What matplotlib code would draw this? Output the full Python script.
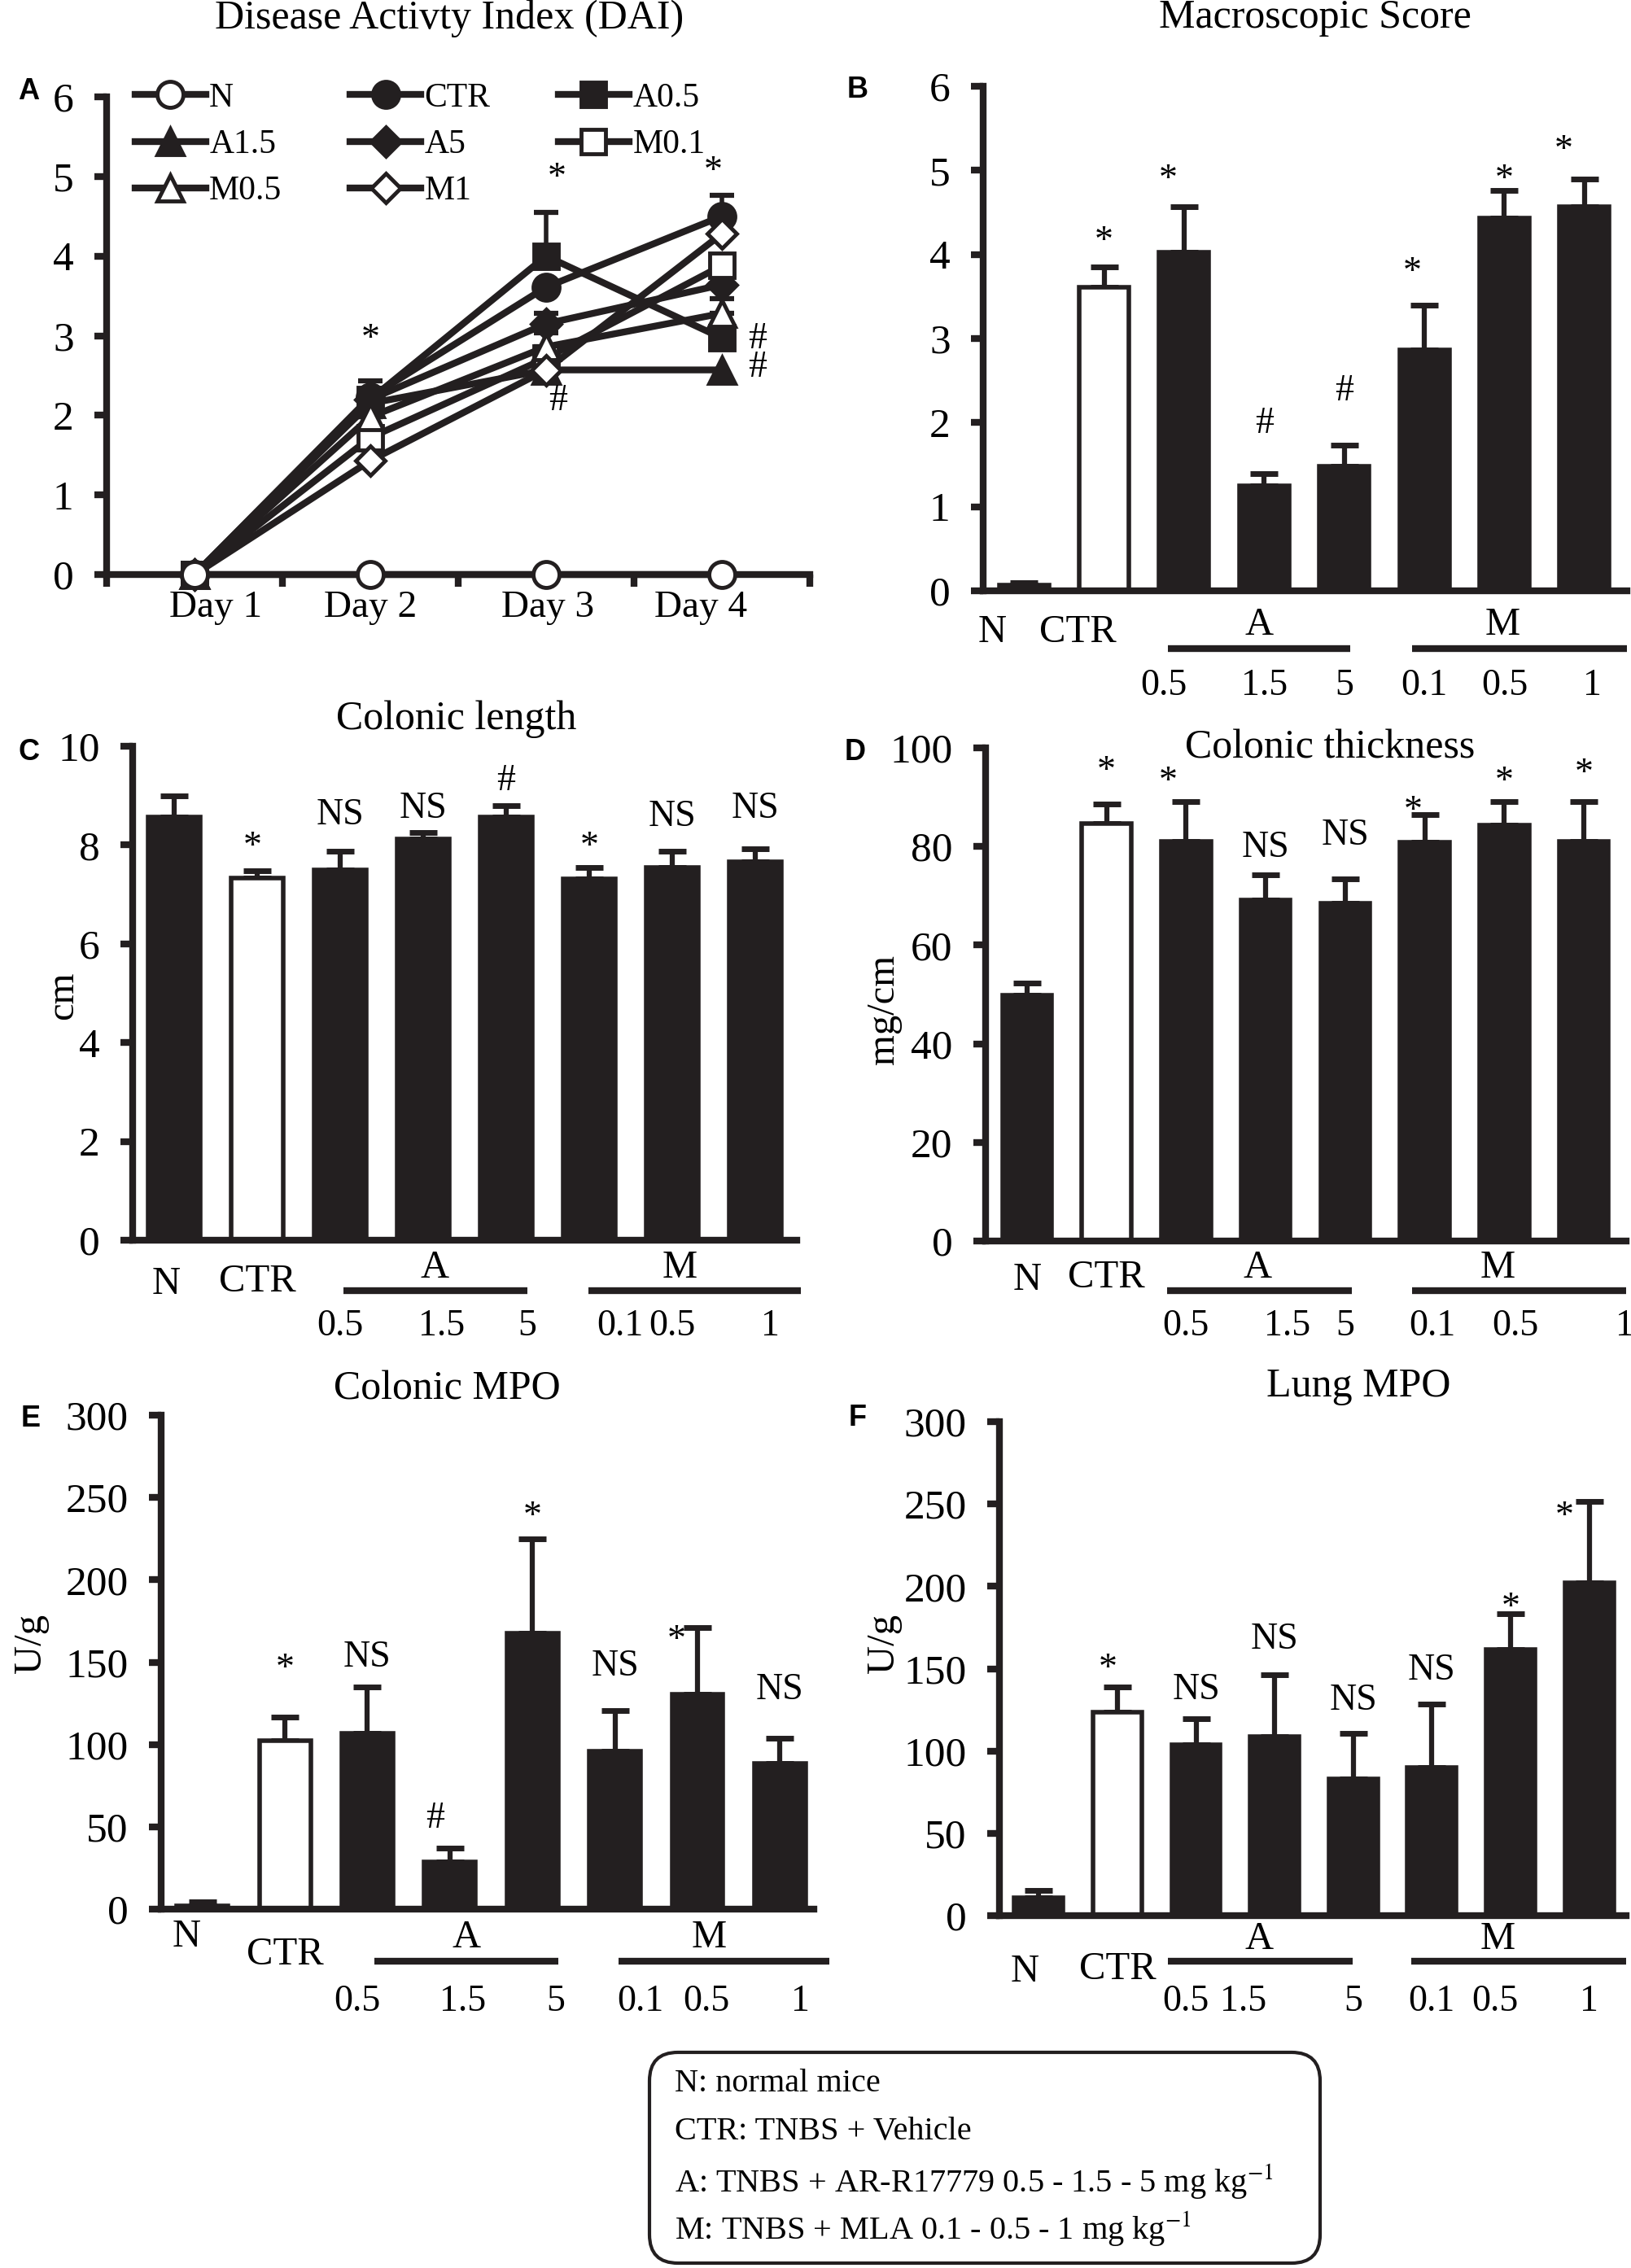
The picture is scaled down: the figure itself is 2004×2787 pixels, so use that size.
import numpy as np
import matplotlib.pyplot as plt
from matplotlib.patches import FancyBboxPatch

plt.rcParams['font.family'] = ['Liberation Serif', 'DejaVu Serif']
plt.rcParams['mathtext.fontset'] = 'stix'

W, H = 2004, 2787
DPI = 100
INK = '#231f20'

# ---------------- data ----------------
days = ['Day 1', 'Day 2', 'Day 3', 'Day 4']
dai_N = [0, 0, 0, 0]
dai_CTR = [0, 2.23, 3.61, 4.50]
dai_A05 = [0, 2.20, 4.00, 2.97]
dai_A15 = [0, 2.15, 2.57, 2.57]
dai_A5 = [0, 2.20, 3.15, 3.64]
dai_M01 = [0, 1.72, 2.72, 3.88]
dai_M05 = [0, 1.98, 2.86, 3.28]
dai_M1 = [0, 1.43, 2.57, 4.28]
dai_CTR_err = [0, 0.20, 0.0, 0.26]
dai_A05_err = [0, 0.0, 0.55, 0.0]
dai_A5_err = [0, 0.0, 0.13, 0.0]
dai_M05_err = [0, 0.0, 0.18, 0.19]
dai_sig = ['*', '*', '*', '#', '#', '#']
dai_sig_x = [2, 3.06, 3.95, 3.07, 4.2, 4.2]
dai_sig_y = [3.07, 5.1, 5.18, 2.18, 2.96, 2.6]

groups = ['N', 'CTR', 'A0.5', 'A1.5', 'A5', 'M0.1', 'M0.5', 'M1']
doses = ['0.5', '1.5', '5', '0.1', '0.5', '1']

macro = [0.07, 3.61, 4.03, 1.25, 1.48, 2.86, 4.43, 4.57]
macro_err = [0.03, 0.24, 0.54, 0.14, 0.25, 0.54, 0.33, 0.33]
macro_sig = ['', '*', '*', '#', '#', '*', '*', '*']
macro_sig_y = [0, 4.27, 5.0, 1.99, 2.37, 3.90, 5.0, 5.35]

length = [8.57, 7.33, 7.50, 8.13, 8.57, 7.31, 7.54, 7.66]
length_err = [0.43, 0.15, 0.37, 0.12, 0.23, 0.23, 0.33, 0.26]
length_sig = ['', '*', 'NS', 'NS', '#', '*', 'NS', 'NS']
length_sig_y = [0, 8.15, 8.61, 8.74, 9.29, 8.15, 8.57, 8.74]

thick = [49.9, 84.7, 81.1, 69.1, 68.4, 80.8, 84.3, 81.1]
thick_err = [2.4, 3.9, 8.0, 5.2, 5.1, 5.7, 4.8, 8.0]
thick_sig = ['', '*', '*', 'NS', 'NS', '*', '*', '*']
thick_sig_y = [0, 97.1, 95.0, 79.8, 82.3, 89.0, 95.0, 96.6]

cmpo = [2, 102.2, 106.7, 28.6, 167.6, 96.1, 130.5, 88.7]
cmpo_err = [2.5, 14.3, 28.3, 8.4, 57.4, 24.6, 40.5, 15.3]
cmpo_sig = ['', '*', 'NS', '#', '*', 'NS', '*', 'NS']
cmpo_sig_y = [0, 151.7, 153, 55, 244, 147.5, 169, 133]

lmpo = [11.1, 123.8, 103.9, 108.7, 83.2, 89.8, 161.7, 202]
lmpo_err = [4.0, 15.1, 15.9, 37.6, 27.3, 38.5, 21.7, 49.5]
lmpo_sig = ['', '*', 'NS', 'NS', 'NS', 'NS', '*', '*']
lmpo_sig_y = [0, 155.6, 137, 167.5, 130.4, 149, 192.7, 248]

note_lines = ['N: normal mice',
              'CTR: TNBS + Vehicle',
              'A: TNBS + AR-R17779 0.5 - 1.5 - 5 mg kg$^{-1}$',
              'M: TNBS + MLA 0.1 - 0.5 - 1 mg kg$^{-1}$']

# ---------------- layout helpers ----------------
fig = plt.figure(figsize=(W / DPI, H / DPI), dpi=DPI)
fig.patch.set_facecolor('white')


def fx(x):
    return x / W


def fy(y):
    return 1 - y / H


def axes_px(left, top, right, bottom):
    return fig.add_axes([fx(left), fy(bottom), (right - left) / W, (bottom - top) / H])


def style_axes(ax, ymax, step):
    for s in ['top', 'right']:
        ax.spines[s].set_visible(False)
    for s in ['left', 'bottom']:
        ax.spines[s].set_linewidth(6)
        ax.spines[s].set_color(INK)
    ax.set_ylim(0, ymax)
    ax.set_yticks(np.arange(0, ymax + step / 2, step))
    ax.tick_params(axis='y', direction='out', length=11, width=6, color=INK,
                   labelsize=37, pad=18)


def sig_mark(ax, x, y, s):
    # asterisks sit high in the em box, pull them down a bit
    dy = -9 if s == '*' else 0
    ax.annotate(s, (x, y), xytext=(0, dy), textcoords='offset points',
                ha='center', va='center', fontsize=33)


def fig_text(x, y, s, **kw):
    fig.text(fx(x), fy(y), s, ha='center', va='center', **kw)


def bar_panel(ax, vals, errs, sigs, sig_y, ymax, step, xlim, offs, lines,
              sig_dx, lab_dx=(0, 0), grp_x=(3, 6), dose_dx=None):
    dose_dx = dose_dx or {}
    x = np.arange(len(groups))
    colors = ['white' if g == 'CTR' else INK for g in groups]
    ax.errorbar(x, vals, yerr=[np.zeros(len(vals)), errs], fmt='none', ecolor=INK,
                elinewidth=4.5, capsize=12, capthick=5, zorder=1)
    ax.bar(x, vals, width=0.62, color=colors, edgecolor=INK, linewidth=4, zorder=2)
    style_axes(ax, ymax, step)
    ax.set_xlim(*xlim)
    ax.set_xticks([])
    for i, (s, yv) in enumerate(zip(sigs, sig_y)):
        if s:
            sig_mark(ax, i + sig_dx.get(i, 0), yv, s)
    # group labels under the axis
    hpx = ax.get_position().height * H
    tr = ax.get_xaxis_transform()
    n_off, ctr_off, grp_off, line_off, dose_off = offs
    ax.text(0 + lab_dx[0], -n_off / hpx, 'N', transform=tr, ha='center', va='center', fontsize=35)
    ax.text(1 + lab_dx[1], -ctr_off / hpx, 'CTR', transform=tr, ha='center', va='center', fontsize=35)
    ax.text(grp_x[0], -grp_off / hpx, 'A', transform=tr, ha='center', va='center', fontsize=35)
    ax.text(grp_x[1], -grp_off / hpx, 'M', transform=tr, ha='center', va='center', fontsize=35)
    for (x0, x1) in lines:
        ax.plot([x0, x1], [-line_off / hpx] * 2, transform=tr, color=INK, lw=6,
                clip_on=False, solid_capstyle='butt')
    for i, d in enumerate(doses):
        ax.text(i + 2 + dose_dx.get(i, 0), -dose_off / hpx, d, transform=tr,
                ha='center', va='center', fontsize=33)


# ---------------- panel A: DAI ----------------
axA = axes_px(131, 119, 995, 706)
xd = np.arange(1, len(days) + 1)
series = [
    ('N', dai_N, 'o', 'white', None),
    ('CTR', dai_CTR, 'o', INK, dai_CTR_err),
    ('A0.5', dai_A05, 's', INK, dai_A05_err),
    ('A1.5', dai_A15, '^', INK, None),
    ('A5', dai_A5, 'D', INK, dai_A5_err),
    ('M0.1', dai_M01, 's', 'white', None),
    ('M0.5', dai_M05, '^', 'white', dai_M05_err),
    ('M1', dai_M1, 'D', 'white', None),
]
marker_size = {'o': 23, 's': 21, '^': 23, 'D': 18}
handles = {}
for name, vals, mk, face, err in series:
    if err is not None:
        axA.errorbar(xd, vals, yerr=[np.zeros(len(err)), err], fmt='none', ecolor=INK,
                     elinewidth=4, capsize=11, capthick=4.5, zorder=2)
    ln, = axA.plot(xd, vals, color=INK, lw=6, marker=mk, markersize=marker_size[mk],
                   markerfacecolor=face, markeredgecolor=INK, markeredgewidth=3.5,
                   zorder=3 if name != 'N' else 5, clip_on=False)
    handles[name] = ln
style_axes(axA, 6, 1)
axA.set_xlim(0.5, 4.5)
day_shift = [0.12, 0.0, 0.01, -0.12]
axA.set_xticks(xd + np.array(day_shift))
axA.set_xticklabels(days, fontsize=34)
axA.set_xticks(np.arange(0.5, 4.6, 1), minor=True)
axA.tick_params(axis='x', which='major', length=0, pad=14)
axA.tick_params(axis='x', which='minor', direction='out', length=11, width=6, color=INK)
for s, xv, yv in zip(dai_sig, dai_sig_x, dai_sig_y):
    sig_mark(axA, xv, yv, s)
order = ['N', 'A1.5', 'M0.5', 'CTR', 'A5', 'M1', 'A0.5', 'M0.1']
axA.legend([handles[k] for k in order], order, ncol=3, loc='upper left',
           bbox_to_anchor=(0.04, 1.03), frameon=False, fontsize=30, numpoints=1,
           handlelength=2.1, handletextpad=0.1, columnspacing=2.0, labelspacing=0.45,
           borderpad=0, borderaxespad=0)

# ---------------- bar panels ----------------
axB = axes_px(1208, 106, 1999, 726)
bar_panel(axB, macro, macro_err, macro_sig, macro_sig_y, 6, 1, (-0.51, 7.53),
          (51, 51, 42, 71, 117), [(1.80, 4.07), (4.85, 7.53)], {2: -0.2, 5: -0.15, 7: -0.26},
          lab_dx=(-0.4, -0.33), grp_x=(2.94, 5.98), dose_dx={0: -0.25, 5: 0.1})

axC = axes_px(163, 917, 979, 1524)
bar_panel(axC, length, length_err, length_sig, length_sig_y, 10, 2, (-0.5, 7.5),
          (54, 51, 34, 62, 106), [(2.04, 4.25), (4.99, 7.55)], {1: -0.06},
          lab_dx=(-0.1, 0), grp_x=(3.14, 6.09),
          dose_dx={1: 0.22, 2: 0.25, 3: 0.37, 5: 0.18})

axD = axes_px(1211, 919, 1998, 1525)
bar_panel(axD, thick, thick_err, thick_sig, thick_sig_y, 100, 20, (-0.52, 7.53),
          (48, 45, 33, 61, 105), [(1.76, 4.08), (4.84, 7.53)], {2: -0.23, 5: -0.15},
          grp_x=(2.9, 5.92), dose_dx={1: 0.27, 3: 0.09, 4: 0.14, 5: 0.51})

axE = axes_px(198, 1739, 1000, 2346)
bar_panel(axE, cmpo, cmpo_err, cmpo_sig, cmpo_sig_y, 300, 50, (-0.5, 7.41),
          (34, 56, 35, 64, 114), [(2.08, 4.31), (5.04, 7.6)], {3: -0.18, 6: -0.25},
          lab_dx=(-0.19, 0), grp_x=(3.2, 6.14),
          dose_dx={0: -0.12, 1: 0.15, 2: 0.28, 3: 0.31, 4: 0.11, 5: 0.25})

axF = axes_px(1228, 1747, 1998, 2354)
bar_panel(axF, lmpo, lmpo_err, lmpo_sig, lmpo_sig_y, 300, 50, (-0.5, 7.47),
          (69, 66, 29, 56, 106), [(1.64, 3.99), (4.74, 7.47)], {1: -0.12, 7: -0.31},
          lab_dx=(-0.18, 0), grp_x=(2.8, 5.84),
          dose_dx={0: -0.13, 1: -0.4, 4: -0.2})

# ---------------- titles, panel letters, y labels ----------------
fig_text(552, 23, 'Disease Activty Index (DAI)', fontsize=36)
fig_text(1616, 22, 'Macroscopic Score', fontsize=36)
fig_text(561, 884, 'Colonic length', fontsize=36)
fig_text(1634, 919, 'Colonic thickness', fontsize=36)
fig_text(549, 1707, 'Colonic MPO', fontsize=36)
fig_text(1669, 1704, 'Lung MPO', fontsize=36)

for letter, x, y in [('A', 35, 112), ('B', 1054, 111), ('C', 35, 925),
                     ('D', 1051, 925), ('E', 38, 1744), ('F', 1054, 1742)]:
    fig_text(x, y, letter, fontsize=26, fontweight='bold', family='Liberation Sans')

fig_text(77, 1223, 'cm', fontsize=35, rotation=90)
fig_text(1086, 1241, 'mg/cm', fontsize=35, rotation=90)
fig_text(38, 2020, 'U/g', fontsize=35, rotation=90)
fig_text(1086, 2020, 'U/g', fontsize=35, rotation=90)

# ---------------- note box ----------------
box = FancyBboxPatch((798 / DPI, (H - 2781) / DPI), (1622 - 798) / DPI, (2781 - 2522) / DPI,
                     boxstyle='round,pad=0,rounding_size=0.35',
                     transform=fig.dpi_scale_trans, facecolor='white', edgecolor=INK,
                     linewidth=3)
fig.patches.append(box)
for s, y in zip(note_lines, [2560, 2620, 2680, 2738]):
    fig.text(fx(829), fy(y), s, ha='left', va='center', fontsize=29)

fig.savefig('out.png', dpi=DPI)
